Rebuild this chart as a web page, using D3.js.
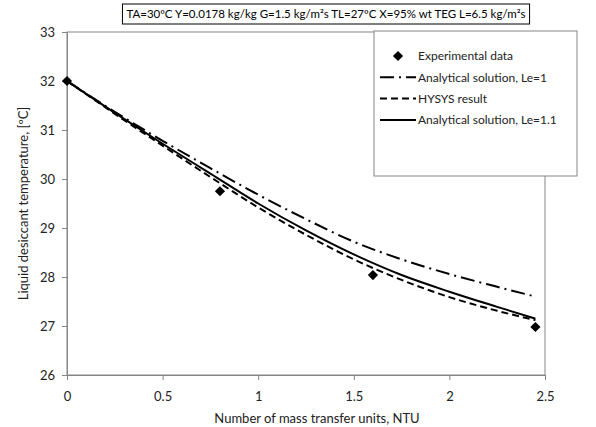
<!DOCTYPE html>
<html>
<head>
<meta charset="utf-8">
<script src="https://cdn.jsdelivr.net/npm/d3@7"></script>
<style>
  body { margin: 0; background: #fff; }
  svg { font-family: Lato, "Liberation Sans", sans-serif; }
</style>
</head>
<body>
<div id="chart"></div>
<script>
// data
const titleText = "TA=30\u00BAC Y=0.0178 kg/kg G=1.5 kg/m\u00B2s TL=27\u00BAC X=95% wt TEG L=6.5 kg/m\u00B2s";
const xTicks = [0, 0.5, 1, 1.5, 2, 2.5];
const yTicks = [26, 27, 28, 29, 30, 31, 32, 33];
const expNtu = [0, 0.8, 1.6, 2.45];
const expTemp = [32.0, 29.75, 28.04, 26.98];
const curveNtu = [0, 0.25, 0.5, 0.75, 1.0, 1.25, 1.5, 1.75, 2.0, 2.25, 2.45];
const le1Temp = [32.0, 31.37, 30.78, 30.22, 29.68, 29.18, 28.72, 28.36, 28.06, 27.80, 27.60];
const hysysTemp = [32.0, 31.33, 30.68, 30.04, 29.42, 28.86, 28.36, 27.94, 27.59, 27.31, 27.12];
const le11Temp = [32.0, 31.35, 30.72, 30.11, 29.50, 28.95, 28.46, 28.04, 27.70, 27.39, 27.15];

const width = 596, height = 427;
const plot = { left: 67, right: 545, top: 32, bottom: 375 };
const axisGray = "#868686";

const svg = d3.select("#chart").append("svg")
  .attr("width", width)
  .attr("height", height);

const x = d3.scaleLinear().domain([0, 2.5]).range([plot.left, plot.right]);
const y = d3.scaleLinear().domain([26, 33]).range([plot.bottom, plot.top]);

// plot area border
svg.append("rect")
  .attr("x", plot.left).attr("y", plot.top)
  .attr("width", plot.right - plot.left)
  .attr("height", plot.bottom - plot.top)
  .attr("fill", "none")
  .attr("stroke", axisGray);

// axes
const xAxis = svg.append("g")
  .attr("transform", `translate(0,${plot.bottom})`)
  .call(d3.axisBottom(x).tickValues(xTicks).tickSize(5).tickPadding(12)
    .tickFormat(d3.format("~g")));
const yAxis = svg.append("g")
  .attr("transform", `translate(${plot.left},0)`)
  .call(d3.axisLeft(y).tickValues(yTicks).tickSize(5).tickPadding(7)
    .tickFormat(d3.format("d")));
[xAxis, yAxis].forEach(g => {
  g.select(".domain").attr("stroke", axisGray);
  g.selectAll(".tick line").attr("stroke", axisGray);
  g.selectAll(".tick text").attr("fill", "#222").style("font-size", "13px")
    .style("font-family", "Lato, sans-serif");
});

// axis titles
svg.append("text")
  .attr("x", 317)
  .attr("y", 423)
  .attr("text-anchor", "middle")
  .style("font-size", "13px")
  .attr("fill", "#222")
  .text("Number of mass transfer units, NTU");
svg.append("text")
  .attr("transform", `translate(28,${(plot.top + plot.bottom) / 2}) rotate(-90)`)
  .attr("text-anchor", "middle")
  .style("font-size", "13px")
  .attr("fill", "#222")
  .text("Liquid desiccant temperature, [\u00BAC]");

// lines
const series = [
  { name: "Analytical solution, Le=1", temps: le1Temp, dash: "14,5,2,5" },
  { name: "HYSYS result", temps: hysysTemp, dash: "7,4" },
  { name: "Analytical solution, Le=1.1", temps: le11Temp, dash: null }
];
const line = d3.line()
  .x(d => x(d[0]))
  .y(d => y(d[1]))
  .curve(d3.curveMonotoneX);
series.forEach(s => {
  svg.append("path")
    .datum(curveNtu.map((n, i) => [n, s.temps[i]]))
    .attr("fill", "none")
    .attr("stroke", "#000")
    .attr("stroke-width", 2)
    .attr("stroke-dasharray", s.dash)
    .attr("d", line);
});

// experimental points
const diamond = d3.symbol().type(d3.symbolSquare).size(52);
svg.selectAll(".dot")
  .data(expNtu.map((n, i) => [n, expTemp[i]]))
  .join("path")
  .attr("class", "dot")
  .attr("d", diamond)
  .attr("transform", d => `translate(${x(d[0])},${y(d[1])}) rotate(45)`)
  .attr("fill", "#000");

// legend
const legend = svg.append("g");
legend.append("rect")
  .attr("x", 374).attr("y", 31)
  .attr("width", 203).attr("height", 145)
  .attr("fill", "#fff")
  .attr("stroke", axisGray);
const rows = [{ name: "Experimental data", marker: true }].concat(series);
rows.forEach((r, i) => {
  const ry = 56 + i * 21.3;
  if (r.marker) {
    legend.append("path")
      .attr("d", diamond)
      .attr("transform", `translate(398,${ry}) rotate(45)`)
      .attr("fill", "#000");
  } else {
    legend.append("line")
      .attr("x1", 380).attr("x2", 416)
      .attr("y1", ry).attr("y2", ry)
      .attr("stroke", "#000")
      .attr("stroke-width", 2)
      .attr("stroke-dasharray", r.dash);
  }
  legend.append("text")
    .attr("x", 418).attr("y", ry)
    .attr("dy", "0.35em")
    .style("font-size", "12px")
    .attr("fill", "#222")
    .text(r.name);
});

// title box
const title = svg.append("g");
const tText = title.append("text")
  .attr("x", 326).attr("y", 14)
  .attr("dy", "0.35em")
  .attr("text-anchor", "middle")
  .style("font-size", "11.5px")
  .attr("fill", "#000")
  .text(titleText);
const bb = tText.node().getBBox();
title.insert("rect", "text")
  .attr("x", bb.x - 4).attr("y", 4)
  .attr("width", bb.width + 8).attr("height", 20)
  .attr("fill", "#fff")
  .attr("stroke", "#000");
</script>
</body>
</html>
